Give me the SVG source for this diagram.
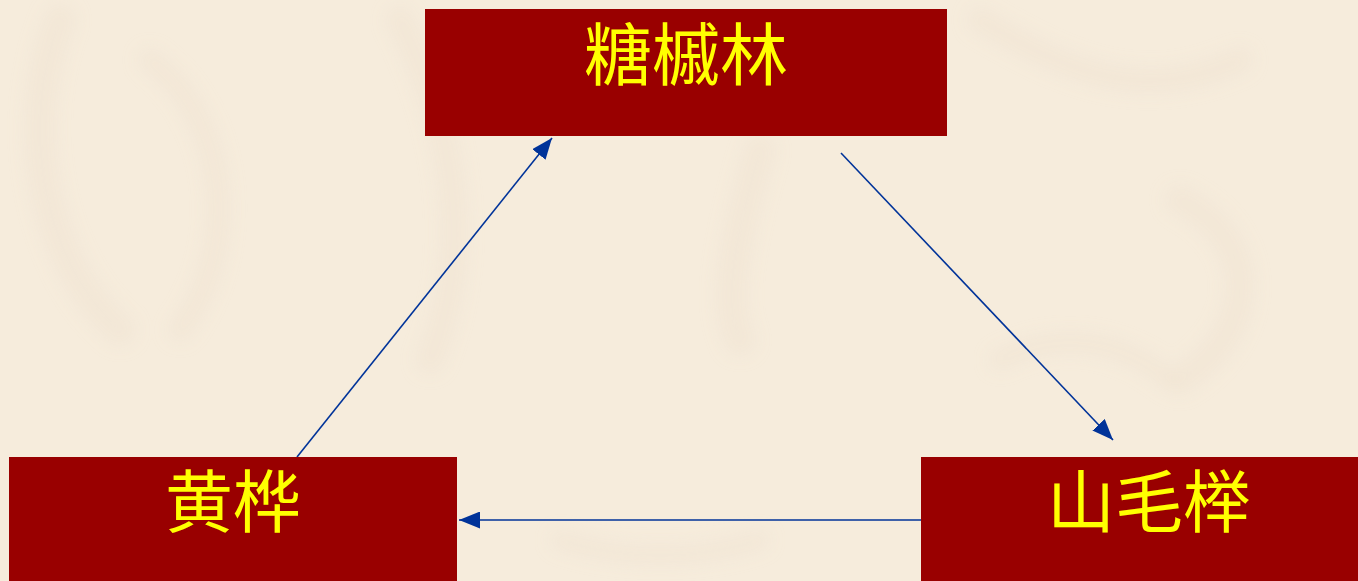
<svg xmlns="http://www.w3.org/2000/svg" width="1358" height="581" viewBox="0 0 1358 581">
<defs>
<style>
.box{fill:#990000;}
.lbl{fill:#FFFF00;font-family:"Noto Sans CJK SC","Noto Sans CJK TC",sans-serif;font-size:68px;text-anchor:middle;}
.edge{stroke:#003399;stroke-width:1.6;fill:none;marker-end:url(#ah);}
.bgs{fill:none;stroke:#EFE3D1;stroke-linecap:round;opacity:0.5;}
</style>
<marker id="ah" viewBox="0 0 10 10" refX="10" refY="5" markerWidth="21" markerHeight="17" markerUnits="userSpaceOnUse" orient="auto" preserveAspectRatio="none">
<path d="M0,0 L10,5 L0,10 z" fill="#003399"/>
</marker>
<filter id="blur"><feGaussianBlur stdDeviation="8"/></filter>
</defs>
<rect width="1358" height="581" fill="#F6ECDC"/>
<g id="background" filter="url(#blur)">
<path class="bgs" stroke-width="30" d="M60,20 C20,120 40,260 120,330"/>
<path class="bgs" stroke-width="22" d="M150,60 C230,120 240,250 180,330"/>
<path class="bgs" stroke-width="26" d="M400,20 C460,140 470,260 430,360"/>
<path class="bgs" stroke-width="30" d="M760,150 C740,220 720,300 740,340"/>
<path class="bgs" stroke-width="24" d="M980,20 C1080,80 1150,100 1240,60"/>
<path class="bgs" stroke-width="28" d="M1180,200 C1260,240 1260,330 1180,380"/>
<path class="bgs" stroke-width="20" d="M1000,360 C1060,330 1120,340 1170,380"/>
<path class="bgs" stroke-width="18" d="M560,540 C620,560 700,560 760,540"/>
</g>
<g id="connectors">
<line class="edge" x1="297" y1="457" x2="552" y2="138"/>
<line class="edge" x1="841" y1="153" x2="1113" y2="440"/>
<line class="edge" x1="921" y1="520" x2="459" y2="520"/>
</g>
<g id="node-tangqilin">
<rect class="box" x="425" y="9" width="522" height="127"/>
<text class="lbl" x="686" y="80">糖槭林</text>
</g>
<g id="node-huanghua">
<rect class="box" x="9" y="457" width="448" height="124"/>
<text class="lbl" x="233" y="527">黄桦</text>
</g>
<g id="node-shanmaoju">
<rect class="box" x="921" y="457" width="437" height="124"/>
<text class="lbl" x="1149" y="527">山毛榉</text>
</g>
</svg>
